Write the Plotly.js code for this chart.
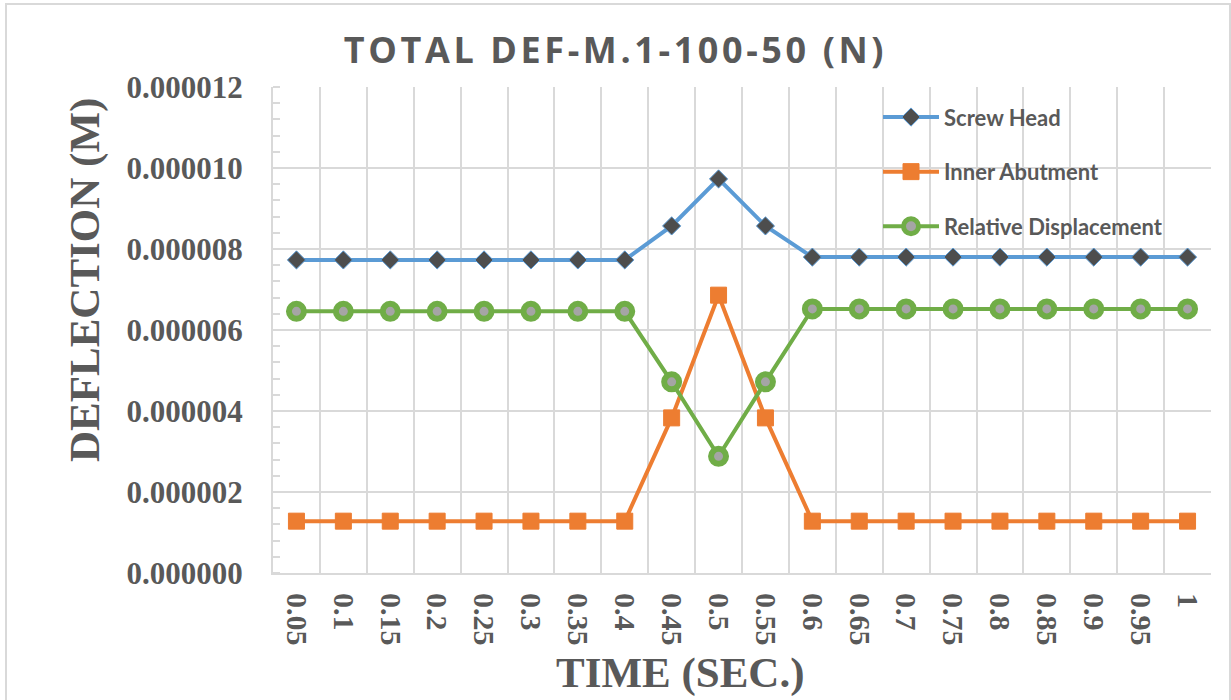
<!DOCTYPE html>
<html>
<head>
<meta charset="utf-8">
<script src="https://cdn.plot.ly/plotly-3.0.1.min.js"></script>
<style>
  html, body { margin: 0; padding: 0; background: #fff; }
  #wrap { position: relative; width: 1231px; height: 700px; overflow: hidden; }
  #chart { width: 1231px; height: 700px; }
  #frame { position: absolute; left: 5px; top: 3px; width: 1222px; height: 720px;
           border: 2px solid #d9d9d9; pointer-events: none; }
  .gtitle { letter-spacing: 3.6px; }
</style>
</head>
<body>
<div id="wrap">
  <div id="chart"></div>
  <div id="frame"></div>
</div>
<script>
const timeLabels = ["0.05","0.1","0.15","0.2","0.25","0.3","0.35","0.4","0.45","0.5",
                    "0.55","0.6","0.65","0.7","0.75","0.8","0.85","0.9","0.95","1"];
const screwHead = [7.73e-6,7.73e-6,7.73e-6,7.73e-6,7.73e-6,7.73e-6,7.73e-6,7.73e-6,8.57e-6,9.73e-6,
                   8.57e-6,7.80e-6,7.80e-6,7.80e-6,7.80e-6,7.80e-6,7.80e-6,7.80e-6,7.80e-6,7.80e-6];
const innerAbutment = [1.28e-6,1.28e-6,1.28e-6,1.28e-6,1.28e-6,1.28e-6,1.28e-6,1.28e-6,3.83e-6,6.86e-6,
                       3.83e-6,1.28e-6,1.28e-6,1.28e-6,1.28e-6,1.28e-6,1.28e-6,1.28e-6,1.28e-6,1.28e-6];
const relativeDisp = [6.46e-6,6.46e-6,6.46e-6,6.46e-6,6.46e-6,6.46e-6,6.46e-6,6.46e-6,4.72e-6,2.88e-6,
                      4.72e-6,6.52e-6,6.52e-6,6.52e-6,6.52e-6,6.52e-6,6.52e-6,6.52e-6,6.52e-6,6.52e-6];
const yTicks = [0, 2e-6, 4e-6, 6e-6, 8e-6, 10e-6, 12e-6];
const yTickText = ["0.000000","0.000002","0.000004","0.000006","0.000008","0.000010","0.000012"];

const txt = '#595959';
const grid = '#d9d9d9';

const traces = [
  {
    x: timeLabels, y: screwHead, name: 'Screw Head', type: 'scatter', mode: 'lines+markers',
    legendgroup: 'a',
    line: { color: '#5b9bd5', width: 4 },
    marker: { symbol: 'diamond', size: 14, color: '#4d4d4d', line: { color: '#5b9bd5', width: 1 } }
  },
  {
    x: timeLabels, y: innerAbutment, name: 'Inner Abutment', type: 'scatter', mode: 'lines+markers',
    legendgroup: 'b',
    line: { color: '#ed7d31', width: 4 },
    marker: { symbol: 'square', size: 16, color: '#ed7d31', line: { color: '#ed7d31', width: 1 } }
  },
  {
    x: timeLabels, y: relativeDisp, name: 'Relative Displacement', type: 'scatter', mode: 'lines+markers',
    legendgroup: 'c',
    line: { color: '#70ad47', width: 4 },
    marker: { symbol: 'circle', size: 15, color: '#a5a5a5', line: { color: '#70ad47', width: 6 } }
  }
];

const layout = {
  width: 1231, height: 700,
  margin: { l: 273, r: 20, t: 87, b: 127, autoexpand: false },
  paper_bgcolor: '#ffffff', plot_bgcolor: '#ffffff',
  showlegend: true,
  title: {
    text: 'TOTAL DEF-M.1-100-50 (N)',
    x: 0.5, xanchor: 'center', y: 1 - 50/700, yanchor: 'middle',
    font: { family: 'Open Sans, sans-serif', size: 36, color: txt, weight: 'bold' }
  },
  xaxis: {
    type: 'category',
    range: [-0.5, 19.5], autorange: false,
    tickson: 'boundaries',
    showgrid: true, gridcolor: grid, gridwidth: 2,
    showline: true, linecolor: grid, linewidth: 2,
    ticks: '', tickangle: 90,
    ticklabelstandoff: 12,
    tickfont: { family: 'Liberation Serif, Times New Roman, serif', size: 30, color: txt, weight: 'bold' },
    zeroline: false
  },
  yaxis: {
    range: [0, 12e-6], autorange: false,
    tickvals: yTicks, ticktext: yTickText,
    showgrid: true, gridcolor: grid, gridwidth: 2,
    showline: true, linecolor: grid, linewidth: 2,
    ticks: '',
    ticklabelstandoff: 22,
    minor: { dtick: 0.4e-6, tick0: 0, ticks: 'inside', ticklen: 7, tickcolor: grid, tickwidth: 2, showgrid: false },
    tickfont: { family: 'Liberation Serif, Times New Roman, serif', size: 31, color: txt, weight: 'bold' },
    zeroline: false
  },
  legend: {
    x: 0.645, xanchor: 'left', y: 0.981, yanchor: 'top',
    bgcolor: 'rgba(0,0,0,0)',
    traceorder: 'grouped', tracegroupgap: 23,
    itemwidth: 56,
    font: { family: 'Lato, sans-serif', size: 22, color: txt, weight: 'bold' }
  },
  annotations: [
    {
      text: 'DEFLECTION (M)', textangle: -90, showarrow: false,
      xref: 'paper', yref: 'paper', x: (85 - 273) / 938, y: (573 - 280) / 486,
      xanchor: 'center', yanchor: 'middle',
      font: { family: 'Liberation Serif, Times New Roman, serif', size: 43, color: txt, weight: 'bold' }
    },
    {
      text: 'TIME (SEC.)', showarrow: false,
      xref: 'paper', yref: 'paper', x: (680 - 273) / 938, y: (573 - 673) / 486,
      xanchor: 'center', yanchor: 'middle',
      font: { family: 'Liberation Serif, Times New Roman, serif', size: 43, color: txt, weight: 'bold' }
    }
  ]
};

Plotly.newPlot('chart', traces, layout, { displayModeBar: false, staticPlot: true });
</script>
</body>
</html>
